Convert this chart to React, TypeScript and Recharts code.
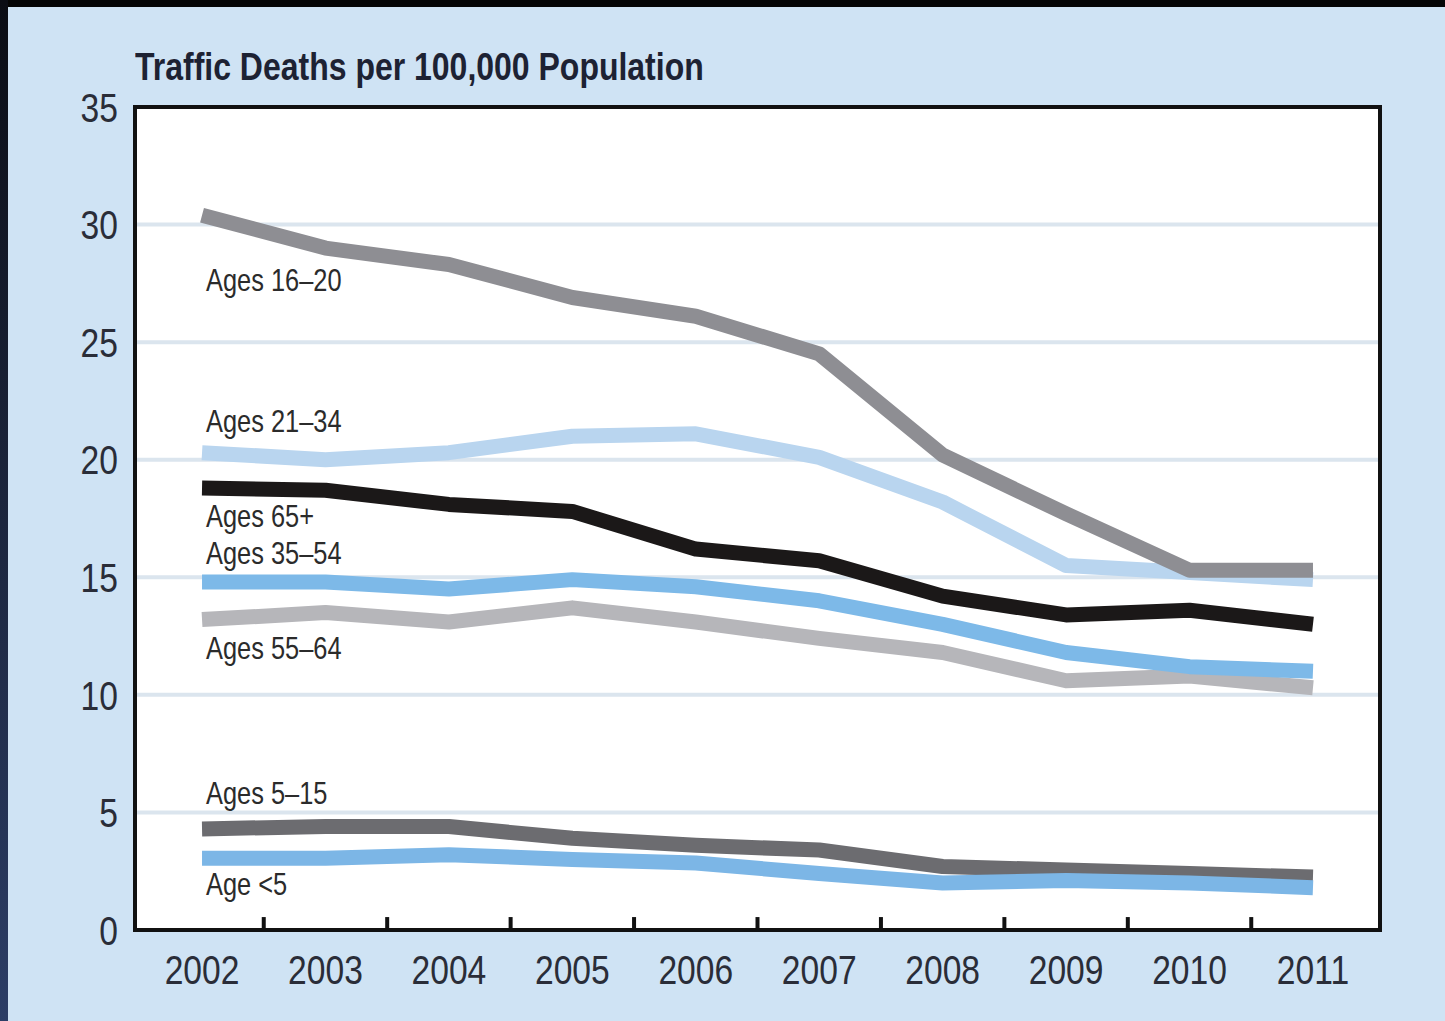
import {
  LineChart,
  Line,
  XAxis,
  YAxis,
  CartesianGrid,
  ReferenceArea,
  ReferenceLine,
  LabelList,
} from 'recharts';

const years = [2002, 2003, 2004, 2005, 2006, 2007, 2008, 2009, 2010, 2011];
const yTicks = [0, 5, 10, 15, 20, 25, 30, 35];

const ages16to20 = [30.4, 29.0, 28.3, 26.9, 26.1, 24.5, 20.2, 17.7, 15.3, 15.3];
const ages21to34 = [20.3, 20.0, 20.3, 21.0, 21.1, 20.1, 18.2, 15.5, 15.2, 14.9];
const ages65plus = [18.8, 18.7, 18.1, 17.8, 16.2, 15.7, 14.2, 13.4, 13.6, 13.0];
const ages35to54 = [14.8, 14.8, 14.5, 14.9, 14.6, 14.0, 13.0, 11.8, 11.2, 11.0];
const ages55to64 = [13.2, 13.5, 13.1, 13.7, 13.1, 12.4, 11.8, 10.6, 10.8, 10.3];
const ages5to15 = [4.3, 4.4, 4.4, 3.9, 3.6, 3.4, 2.7, 2.55, 2.4, 2.25];
const ageUnder5 = [3.05, 3.05, 3.2, 3.0, 2.85, 2.4, 2.0, 2.1, 2.0, 1.8];

const data = years.map((year, i) => ({
  year,
  a16: ages16to20[i],
  a21: ages21to34[i],
  a65: ages65plus[i],
  a35: ages35to54[i],
  a55: ages55to64[i],
  a5: ages5to15[i],
  a0: ageUnder5[i],
}));

// tick marks sit between the years
const minorTicks = years.slice(0, -1).map((y) => y + 0.5);

// no narrow font installed, so squeeze Liberation Sans horizontally
const FONT = '"Liberation Sans", Arial, sans-serif';
const SQUEEZE = 0.82;
const XPAD = 0.543;
const TEXT = '#2a2d38';

const XTick = (props: any) => {
  const { x, y, payload } = props;
  return (
    <g transform={`translate(${x},${y})`}>
      <text transform={`scale(${SQUEEZE},1)`} textAnchor="middle" dy="0.71em" fontFamily={FONT} fontSize={41} fill={TEXT}>
        {payload.value}
      </text>
    </g>
  );
};

const YTick = (props: any) => {
  const { x, y, payload } = props;
  return (
    <g transform={`translate(${x},${y})`}>
      <text transform={`scale(${SQUEEZE},1)`} textAnchor="end" dy="0.36em" fontFamily={FONT} fontSize={41} fill={TEXT}>
        {payload.value}
      </text>
    </g>
  );
};

const seriesLabel = (text: string, dy: number) => (props: any) => {
  if (props.index !== 0) return null;
  return (
    <g transform={`translate(${props.x + 4},${props.y + dy})`}>
      <text transform={`scale(${SQUEEZE},1)`} dy="0.36em" fontFamily={FONT} fontSize={31} fill="#2b2b2b">
        {text}
      </text>
    </g>
  );
};

export default function App() {
  return (
    <div
      style={{
        position: 'absolute',
        left: 0,
        top: 0,
        width: 1445,
        height: 1021,
        background: '#cfe3f4',
        overflow: 'hidden',
      }}
    >
      <div style={{ position: 'absolute', left: 0, top: 0, width: 1445, height: 7, background: '#050505' }} />
      <div
        style={{
          position: 'absolute',
          left: 0,
          top: 0,
          width: 8,
          height: 1021,
          background: 'linear-gradient(#0b0d14, #2c3e66)',
        }}
      />
      <div
        style={{
          position: 'absolute',
          left: 135,
          top: 47,
          fontFamily: FONT,
          fontWeight: 'bold',
          fontSize: 39,
          lineHeight: 1,
          color: '#1d2233',
          whiteSpace: 'nowrap',
          transform: `scaleX(${SQUEEZE})`,
          transformOrigin: 'left top',
        }}
      >
        Traffic Deaths per 100,000 Population
      </div>
      <LineChart
        width={1445}
        height={1021}
        data={data}
        margin={{ top: 107, right: 65, left: 75, bottom: 31 }}
        style={{ position: 'absolute', left: 0, top: 0 }}
      >
        <CartesianGrid
          vertical={false}
          stroke="#dbe5ee"
          strokeWidth={4}
          fill="#ffffff"
          fillOpacity={1}
        />
        <XAxis
          dataKey="year"
          type="number"
          domain={[years[0] - XPAD, years[years.length - 1] + XPAD]}
          ticks={years}
          allowDataOverflow
          axisLine={false}
          tickLine={false}
          tickSize={0}
          tickMargin={25}
          height={60}
          tick={<XTick />}
        />
        <YAxis
          domain={[0, 35]}
          ticks={yTicks}
          axisLine={false}
          tickLine={false}
          tickSize={0}
          tickMargin={17}
          width={60}
          tick={<YTick />}
        />
        <ReferenceArea
          x1={years[0] - XPAD}
          x2={years[years.length - 1] + XPAD}
          y1={0}
          y2={35}
          fill="none"
          stroke="#111111"
          strokeWidth={4}
          ifOverflow="visible"
        />
        {minorTicks.map((t) => (
          <ReferenceLine
            key={t}
            segment={[
              { x: t, y: 0 },
              { x: t, y: 0.55 },
            ]}
            stroke="#111111"
            strokeWidth={4}
            ifOverflow="visible"
          />
        ))}
        <Line dataKey="a55" stroke="#b6b6ba" strokeWidth={15} dot={false} type="linear" isAnimationActive={false} strokeLinejoin="round">
          <LabelList dataKey="a55" content={seriesLabel('Ages 55–64', 28)} />
        </Line>
        <Line dataKey="a35" stroke="#7db9e8" strokeWidth={15} dot={false} type="linear" isAnimationActive={false} strokeLinejoin="round">
          <LabelList dataKey="a35" content={seriesLabel('Ages 35–54', -29)} />
        </Line>
        <Line dataKey="a21" stroke="#b9d5ef" strokeWidth={15} dot={false} type="linear" isAnimationActive={false} strokeLinejoin="round">
          <LabelList dataKey="a21" content={seriesLabel('Ages 21–34', -32)} />
        </Line>
        <Line dataKey="a16" stroke="#8e8e93" strokeWidth={15} dot={false} type="linear" isAnimationActive={false} strokeLinejoin="round">
          <LabelList dataKey="a16" content={seriesLabel('Ages 16–20', 65)} />
        </Line>
        <Line dataKey="a65" stroke="#1b1818" strokeWidth={15} dot={false} type="linear" isAnimationActive={false} strokeLinejoin="round">
          <LabelList dataKey="a65" content={seriesLabel('Ages 65+', 28)} />
        </Line>
        <Line dataKey="a5" stroke="#6c6c70" strokeWidth={15} dot={false} type="linear" isAnimationActive={false} strokeLinejoin="round">
          <LabelList dataKey="a5" content={seriesLabel('Ages 5–15', -36)} />
        </Line>
        <Line dataKey="a0" stroke="#7cb6e6" strokeWidth={15} dot={false} type="linear" isAnimationActive={false} strokeLinejoin="round">
          <LabelList dataKey="a0" content={seriesLabel('Age <5', 26)} />
        </Line>
      </LineChart>
    </div>
  );
}
